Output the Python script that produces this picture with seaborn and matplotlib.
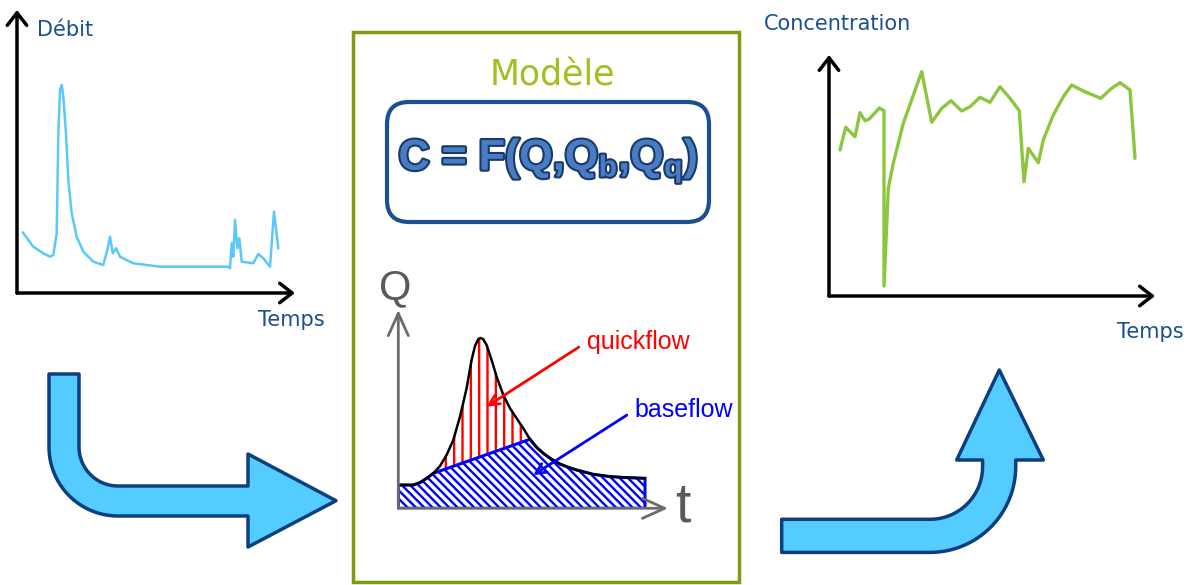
import numpy as np
import matplotlib
matplotlib.use("Agg")
import matplotlib.pyplot as plt
import matplotlib.patheffects as pe
from matplotlib.patches import FancyBboxPatch, Rectangle, PathPatch
from matplotlib.path import Path
import seaborn as sns

W, H = 1192, 585

# left panel : débit vs temps
debit_t = [5.7, 16.3, 26.3, 33, 36.3, 39.7, 41.3, 43, 44.7, 46.3, 49, 51.3, 54.7, 59.7,
           66.3, 76.3, 86.3, 90.3, 93, 95.7, 99, 103, 116.3, 143, 183, 211.3, 213,
           214.7, 216.3, 218, 220.3, 222.3, 224.7, 236.3, 241.3, 246.3, 253, 257, 261.3]
debit_q = [60.7, 46.3, 39.7, 36.3, 38, 59.7, 159.7, 203, 208, 196.3, 159.7, 113, 79.7, 56.3,
           41.3, 31.3, 28, 43, 56.3, 39.7, 44.7, 36.3, 29.7, 26.3, 26.3, 26.3, 24.7,
           49.7, 36.3, 73, 44.7, 54.7, 31.3, 29.7, 39, 34.7, 26.3, 81.3, 44.7]

# right panel : concentration vs temps
conc_t = [11, 16.7, 26, 31, 36, 40.3, 50.3, 55, 55, 59.3, 64.3, 74.3, 92.7, 102.7, 112.7,
          122, 132.7, 141, 151, 161, 171, 181, 190.3, 195, 199.3, 209.3, 214.3, 224.3,
          234.3, 242.7, 254.3, 271.7, 282.7, 291, 301, 306]
conc_c = [146, 168.7, 159.3, 183.3, 175.3, 177, 188, 185.3, 10, 107.7, 132.7, 172.7, 224.3,
          173.7, 187.7, 195.3, 185, 189.3, 198.7, 193.7, 209.3, 197.7, 185.3, 114.3, 147.7,
          133.3, 156, 181, 199.3, 211, 205, 197.7, 207.7, 213.3, 206, 137.7]

# model sketch : hydrogram
hydro_t = [0, 15, 21.7, 28.3, 35, 41.7, 48.3, 55, 61.7, 68.3, 73.3, 76.7, 80, 82.3, 85,
           88.3, 93.3, 98.3, 105, 111.7, 118.3, 125, 131.7, 138.3, 145, 153.3, 161.7,
           170, 178.3, 195, 211.7, 228.3, 246.7]
hydro_q = [23.3, 23.3, 25.7, 30, 35, 42.3, 53.3, 68.3, 91.7, 120, 148.3, 162.3, 169.3,
           170.3, 169, 163.3, 148.3, 131.7, 113.3, 100, 90, 80, 69, 61, 55, 49, 44.3,
           41, 38.3, 34, 31.7, 30.7, 30]
sep_i0, sep_i1 = 4, 22   # baseflow separation line between these two points

sns.set_theme(style="white")
plt.rcParams["font.family"] = ["DejaVu Sans"]
plt.rcParams["hatch.linewidth"] = 1.7
plt.rcParams["mathtext.fontset"] = "custom"
plt.rcParams["mathtext.rm"] = "Liberation Sans:bold"
plt.rcParams["mathtext.it"] = "Liberation Sans:bold"
plt.rcParams["mathtext.bf"] = "Liberation Sans:bold"

fig = plt.figure(figsize=(W / 100, H / 100), dpi=100)
bg = fig.add_axes([0, 0, 1, 1])
bg.set_xlim(0, W)
bg.set_ylim(H, 0)
bg.set_axis_off()


def inset(x0, y0, x1, y1):
    ax = fig.add_axes([x0 / W, 1 - y1 / H, (x1 - x0) / W, (y1 - y0) / H])
    ax.set_axis_off()
    ax.patch.set_alpha(0)
    return ax


def axis_arrows(ax, color, lw, style):
    for tip in [(0, 1), (1, 0)]:
        ax.annotate("", xy=tip, xytext=(0, 0), xycoords="axes fraction",
                    arrowprops=dict(arrowstyle=style, color=color, lw=lw,
                                    shrinkA=0, shrinkB=0, mutation_scale=20))


dark_blue = "#1b4f8f"

# ---- débit panel
ax1 = inset(17, 10, 295, 293)
ax1.set_xlim(0, 278)
ax1.set_ylim(0, 283)
sns.lineplot(x=debit_t, y=debit_q, ax=ax1, color="#5ac8f8", lw=1.8,
             estimator=None, sort=False)
axis_arrows(ax1, "black", 2.5, "->,head_length=0.45,head_width=0.35")
bg.text(37, 30, "Débit", ha="left", va="center", fontsize=15, color=dark_blue)
bg.text(258, 320, "Temps", ha="left", va="center", fontsize=15, color=dark_blue)

# ---- concentration panel
ax2 = inset(829, 55, 1155, 296)
ax2.set_xlim(0, 326)
ax2.set_ylim(0, 241)
sns.lineplot(x=conc_t, y=conc_c, ax=ax2, color="#8cc63f", lw=2.4,
             estimator=None, sort=False)
axis_arrows(ax2, "black", 2.5, "->,head_length=0.45,head_width=0.35")
bg.text(764, 24, "Concentration", ha="left", va="center", fontsize=15, color=dark_blue)
bg.text(1117, 332, "Temps", ha="left", va="center", fontsize=15, color=dark_blue)

# ---- model box
bg.add_patch(Rectangle((353, 32), 386, 550, fill=False, edgecolor="#7f9c12", lw=2.5))
bg.text(552, 75, "Modèle", ha="center", va="center", fontsize=25, color="#9dc21e")
bg.add_patch(FancyBboxPatch((387, 102), 322, 120,
                            boxstyle="round,pad=0,rounding_size=22",
                            facecolor="white", edgecolor=dark_blue, lw=3))
bg.text(548, 161, r"C = F(Q,Q$_{b}$,Q$_{q}$)", ha="center", va="center",
        fontsize=31, fontfamily="Liberation Sans", fontweight="bold",
        color="#4a7cc4",
        path_effects=[pe.withStroke(linewidth=3, foreground="#173a6b")])

# ---- hydrogram
ax3 = inset(398.3, 310, 668, 508.3)
ax3.set_xlim(0, 269.7)
ax3.set_ylim(0, 198.3)
quick_t = hydro_t[sep_i0:sep_i1 + 1]
quick_q = hydro_q[sep_i0:sep_i1 + 1]
ax3.fill(quick_t, quick_q, facecolor="white", edgecolor="red", hatch="||", lw=0)
base_t = hydro_t[:sep_i0 + 1] + hydro_t[sep_i1:] + [hydro_t[-1], 0]
base_q = hydro_q[:sep_i0 + 1] + hydro_q[sep_i1:] + [0, 0]
ax3.fill(base_t, base_q, facecolor="white", edgecolor="blue", hatch="\\\\\\\\", lw=2.2)
sns.lineplot(x=hydro_t, y=hydro_q, ax=ax3, color="black", lw=1.8,
             estimator=None, sort=False)
axis_arrows(ax3, "#6b6b6b", 2, "->,head_length=0.8,head_width=0.36")
ax3.annotate("quickflow", xy=(88.3, 101.7), xytext=(188.5, 166.3), color="red",
             fontsize=18, fontfamily="Liberation Sans", ha="left", va="center",
             annotation_clip=False,
             arrowprops=dict(arrowstyle="->,head_length=0.4,head_width=0.2", color="red",
                             lw=2, relpos=(0, 0.5), shrinkA=4, shrinkB=0))
ax3.annotate("baseflow", xy=(135, 33.3), xytext=(236.5, 98.3), color="blue",
             fontsize=18, fontfamily="Liberation Sans", ha="left", va="center",
             annotation_clip=False,
             arrowprops=dict(arrowstyle="->,head_length=0.4,head_width=0.2", color="blue",
                             lw=2, relpos=(0, 0.5), shrinkA=4, shrinkB=0))
bg.text(395, 288, "Q", ha="center", va="center", fontsize=30,
        fontfamily="Liberation Sans", color="#5a5a5a")
bg.text(683, 507, "t", ha="center", va="center", fontsize=40,
        fontfamily="Liberation Sans", color="#5a5a5a")


# ---- bent arrows
def arc(cx, cy, r, a0, a1, n=30):
    a = np.linspace(a0, a1, n)
    return list(zip(cx + r * np.cos(a), cy + r * np.sin(a)))


def shape(pts):
    verts = pts + [pts[0]]
    codes = [Path.MOVETO] + [Path.LINETO] * (len(pts) - 1) + [Path.CLOSEPOLY]
    return PathPatch(Path(verts, codes), facecolor="#55ccff", edgecolor="#0c3f7e",
                     lw=2.5, joinstyle="round")


left = ([(49, 374), (79, 374), (79, 447)] + arc(118, 447, 39, np.pi, np.pi / 2)
        + [(248, 486), (248, 454), (336, 500.7), (248, 547), (248, 516)]
        + arc(118, 447, 69, np.pi / 2, np.pi))
bg.add_patch(shape(left))

right = ([(781.7, 519.3), (930, 519.3)] + arc(930, 466.7, 52.6, np.pi / 2, 0)
         + [(982.6, 460), (956.7, 460), (999.3, 370), (1043.3, 460), (1015.7, 460)]
         + arc(930, 466.7, 85.7, 0, np.pi / 2) + [(781.7, 552.4)])
bg.add_patch(shape(right))

fig.savefig("out.png", dpi=100)
